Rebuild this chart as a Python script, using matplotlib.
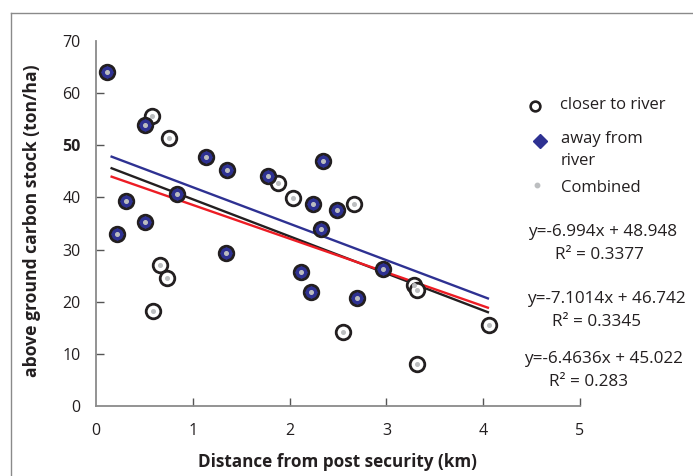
import matplotlib
matplotlib.use("Agg")
import matplotlib.pyplot as plt
from matplotlib.lines import Line2D
import numpy as np

plt.rcParams['font.family'] = ['Open Sans', 'DejaVu Sans']

# closer to river (open circles)
closer_x = [0.576, 0.758, 1.885, 2.03, 2.661, 0.662, 0.731, 0.586, 3.29, 3.32, 2.55, 3.32, 4.06]
closer_y = [55.7, 51.4, 42.7, 39.8, 38.8, 27.1, 24.6, 18.2, 23.2, 22.3, 14.1, 8.0, 15.5]

# away from river (blue diamonds)
away_x = [0.117, 0.507, 1.134, 1.358, 1.78, 0.834, 0.307, 0.507, 2.344, 2.237,
          2.489, 2.32, 0.214, 1.344, 2.117, 2.22, 2.70, 2.97]
away_y = [64.1, 53.8, 47.7, 45.2, 44.1, 40.7, 39.3, 35.3, 46.9, 38.8,
          37.6, 34.0, 32.9, 29.3, 25.7, 21.9, 20.8, 26.3]

# regression lines (slope, intercept, R2) in drawing order
fit_slopes = [-6.994, -7.1014, -6.4636]
fit_intercepts = [48.948, 46.742, 45.022]
fit_r2 = ["0.3377", "0.3345", "0.283"]
fit_labels = ["y=-6.994x + 48.948", "y=-7.1014x + 46.742", "y=-6.4636x + 45.022"]
fit_xrange = [0.15, 4.06]

x_ticks = [0, 1, 2, 3, 4, 5]
y_ticks = [0, 10, 20, 30, 40, 50, 60, 70]

BLUE = '#2e3192'
RED = '#ed1c24'
BLACK = '#231f20'
GREY_DOT = '#bcbec0'
AXIS_GREY = '#8a8a8a'

W, H = 693, 476
fig = plt.figure(figsize=(W / 100, H / 100), dpi=100)

# outer frame (left and top edges visible)
fig.add_artist(Line2D([11 / W, 11 / W], [0, 1 - 12.5 / H], transform=fig.transFigure,
                      color=AXIS_GREY, lw=1.0))
fig.add_artist(Line2D([11 / W, 1], [1 - 12.5 / H, 1 - 12.5 / H], transform=fig.transFigure,
                      color=AXIS_GREY, lw=1.0))

ax = fig.add_axes([96 / W, 1 - 406 / H, (580 - 96) / W, (406 - 41) / H])
ax.set_xlim(0, 5)
ax.set_ylim(0, 70)

for s in ['top', 'right']:
    ax.spines[s].set_visible(False)
for s in ['left', 'bottom']:
    ax.spines[s].set_color(AXIS_GREY)
    ax.spines[s].set_linewidth(1.3)

# regression lines
fit_colors = [BLUE, BLACK, RED]
xr = np.array(fit_xrange)
for m, b, c in zip(fit_slopes, fit_intercepts, fit_colors):
    ax.plot(xr, m * xr + b, color=c, lw=1.7, zorder=2, solid_capstyle='butt')

# closer points
ax.plot(closer_x, closer_y, 'o', ms=10.5, mfc='white', mec=BLACK, mew=2.0,
        ls='none', zorder=3, clip_on=False)
# away points: circle outline + blue diamond
ax.plot(away_x, away_y, 'o', ms=10.5, mfc=BLUE, mec=BLACK, mew=2.0,
        ls='none', zorder=4, clip_on=False)
ax.plot(away_x, away_y, 'D', ms=6.5, mfc=BLUE, mec=BLUE, mew=0.5,
        ls='none', zorder=5, clip_on=False)
# combined grey dots
ax.plot(list(closer_x) + list(away_x), list(closer_y) + list(away_y), 'o', ms=2.6,
        mfc=GREY_DOT, mec=GREY_DOT, ls='none', zorder=6, clip_on=False)

ax.set_xticks(x_ticks)
ax.set_yticks(y_ticks)
ax.set_xticklabels([str(v) for v in x_ticks])
ax.set_yticklabels([str(v) for v in y_ticks])
ax.tick_params(axis='both', direction='in', length=6, width=1.0, color='#555555',
               labelsize=11.5, labelcolor='#231f20')
ax.tick_params(axis='x', pad=12)
ax.tick_params(axis='y', pad=11)
# hide tick marks at the axis ends
ax.xaxis.get_major_ticks()[0].tick1line.set_visible(False)
ax.yaxis.get_major_ticks()[0].tick1line.set_visible(False)
ax.yaxis.get_major_ticks()[-1].tick1line.set_visible(False)
ax.get_yticklabels()[5].set_fontweight('bold')

fig.text(337 / W, 1 - 462 / H, "Distance from post security (km)", ha='center', va='center',
         fontsize=12.3, fontweight='bold', color='#231f20')
fig.text(32 / W, 1 - 221 / H, "above ground carbon stock (ton/ha)", ha='center', va='center',
         rotation=90, fontsize=12.6, fontweight='bold', color='#231f20')

# legend (manual)
fig.add_artist(Line2D([535 / W], [1 - 106 / H], transform=fig.transFigure, marker='o', ms=7,
                      mfc='white', mec=BLACK, mew=1.9, ls='none'))
fig.add_artist(Line2D([540 / W], [1 - 141 / H], transform=fig.transFigure, marker='D', ms=7.5,
                      mfc=BLUE, mec=BLUE, ls='none'))
fig.add_artist(Line2D([537 / W], [1 - 185 / H], transform=fig.transFigure, marker='o', ms=3.2,
                      mfc=GREY_DOT, mec=GREY_DOT, ls='none'))
fig.text(560 / W, 1 - 105 / H, "closer to river", ha='left', va='center', fontsize=12, color='#231f20')
fig.text(561 / W, 1 - 139 / H, "away from", ha='left', va='center', fontsize=12, color='#231f20')
fig.text(561 / W, 1 - 161 / H, "river", ha='left', va='center', fontsize=12, color='#231f20')
fig.text(561 / W, 1 - 188 / H, "Combined", ha='left', va='center', fontsize=12, color='#231f20')

# equations
eq_left = [528, 527, 524]
eq_y = [232, 299, 359]
r2_left = [555, 552, 549]
for lab, r2, xl, yy, rl in zip(fit_labels, fit_r2, eq_left, eq_y, r2_left):
    fig.text(xl / W, 1 - yy / H, lab, ha='left', va='center', fontsize=12.3, color='#231f20')
    fig.text(rl / W, 1 - (yy + 23) / H, "R² = " + r2, ha='left', va='center', fontsize=12.3,
             color='#231f20')

fig.savefig("out.png", dpi=100)
